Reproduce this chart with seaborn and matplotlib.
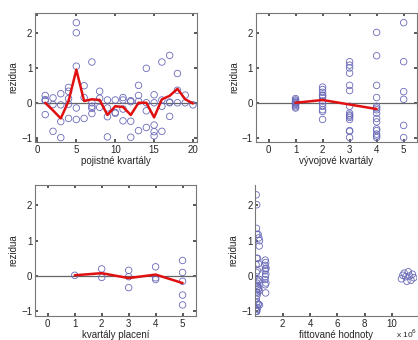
import numpy as np
import pandas as pd
import seaborn as sns
import matplotlib.pyplot as plt

# residuals vs accident quarter
acc_x = [1, 1, 1, 1, 2, 2, 2, 3, 3, 3, 3, 4, 4, 4, 4, 4,
         5, 5, 5, 5, 5, 6, 6, 6, 7, 7, 7, 7, 7, 8, 8, 8,
         9, 9, 9, 9, 10, 10, 10, 11, 11, 11, 11, 12, 12, 12, 12,
         13, 13, 13, 13, 14, 14, 14, 14, 15, 15, 15, 15, 15,
         16, 16, 16, 16, 17, 17, 17, 17, 18, 18, 18, 19, 19, 20]
acc_res = [0.21, 0.09, 0.06, -0.34, 0.14, -0.05, -0.82, 0.26, -0.06, -0.54, -1.0,
           0.44, 0.33, 0.12, -0.04, -0.45,
           2.3, 2.01, 1.05, -0.15, -0.48, 0.49, 0.15, -0.45,
           1.17, 0.0, -0.1, -0.16, -0.31, 0.33, 0.13, -0.13,
           0.08, -0.15, -0.4, -0.98, 0.08, -0.28, -0.3,
           0.15, 0.08, -0.18, -0.52, 0.06, 0.03, -0.53, -0.99,
           0.5, 0.21, 0.04, -0.8, 0.99, 0.0, -0.23, -0.71,
           0.23, 0.0, -0.64, -0.83, -0.95,
           1.17, 0.08, -0.1, -0.82, 1.36, 0.02, 0.0, -0.39,
           0.84, 0.36, 0.0, 0.22, 0.0, -0.06]
acc_q = list(range(1, 21))
acc_mean = [0.0, -0.22, -0.45, 0.05, 0.95, 0.05, 0.1, 0.08, -0.35, -0.1,
            -0.12, -0.35, 0.0, 0.0, -0.42, 0.1, 0.2, 0.4, 0.1, -0.02]

# residuals vs development quarter
dev_x = [1] * 10 + [2] * 12 + [3] * 15 + [4] * 15 + [5] * 6
dev_res = [0.12, 0.08, 0.05, 0.02, 0.0, -0.02, -0.05, -0.08, -0.12, -0.15,
           0.45, 0.38, 0.3, 0.22, 0.2, 0.15, 0.05, -0.02, -0.1, -0.2, -0.25, -0.48,
           1.18, 1.08, 1.0, 0.85, 0.5, 0.35, -0.1, -0.3, -0.35, -0.38, -0.42, -0.48,
           -0.8, -0.82, -1.0,
           2.02, 1.35, 0.5, 0.15, -0.1, -0.15, -0.2, -0.3, -0.45, -0.55, -0.75, -0.8,
           -0.9, -0.95, -1.0,
           2.3, 1.18, 0.32, 0.1, -0.65, -1.0]
dev_q = [1, 2, 3, 4]
dev_mean = [0.0, 0.08, -0.05, -0.18]

# residuals vs payment quarter
pay_x = [1, 2, 2, 3, 3, 3, 4, 4, 4, 5, 5, 5, 5, 5]
pay_res = [0.02, 0.2, -0.04, 0.16, -0.02, -0.33, 0.26, -0.05, -0.1,
           0.44, 0.1, -0.15, -0.54, -0.82]
pay_q = [1, 2, 3, 4, 5]
pay_mean = [0.02, 0.08, -0.06, 0.04, -0.2]

# residuals vs fitted values (x 10^6)
fit_x = [11.2, 10.9, 11.5, 10.8, 11.3, 11.0, 11.6, 10.7, 11.4, 11.1,
         0.72, 0.75, 0.7, 0.78, 0.74, 0.71, 0.76, 0.73, 0.7, 0.77, 0.72, 0.75,
         0.2, 0.25, 0.3, 0.28, 0.15, 0.22, 0.3, 0.18, 0.25, 0.2, 0.27, 0.15,
         0.2, 0.3, 0.1,
         0.1, 0.08, 0.1, 0.15, 0.12, 0.2, 0.1, 0.15, 0.08, 0.12, 0.1, 0.2,
         0.15, 0.1, 0.08,
         0.06, 0.1, 0.05, 0.08, 0.06, 0.05]
fit_res = dev_res

line_color = '#e01010'
marker_color = '#6a6ab8'
sns.set_theme(style='white')
plt.rcParams['font.family'] = ['Liberation Sans', 'DejaVu Sans']

fig = plt.figure(figsize=(4.18, 3.4), dpi=100)
boxes = [[0.084, 0.582, 0.387, 0.380], [0.612, 0.582, 0.386, 0.380],
         [0.084, 0.071, 0.385, 0.385], [0.611, 0.071, 0.387, 0.385]]
axes = [fig.add_axes(b) for b in boxes]

panels = [
    (acc_x, acc_res, acc_q, acc_mean, 'pojistné kvartály', (-0.3, 20.5), [0, 5, 10, 15, 20]),
    (dev_x, dev_res, dev_q, dev_mean, 'vývojové kvartály', (-0.47, 5.5), [0, 1, 2, 3, 4, 5]),
    (pay_x, pay_res, pay_q, pay_mean, 'kvartály placení', (-0.47, 5.5), [0, 1, 2, 3, 4, 5]),
]

for ax, (px, py, mx, my, xlab, xl, xt) in zip(axes[:3], panels):
    ax.axhline(0, color='#666666', lw=0.9, zorder=1)
    sns.scatterplot(x=px, y=py, ax=ax, marker='o', s=22, facecolor='none',
                    edgecolor=marker_color, linewidth=0.6, zorder=2)
    sns.lineplot(x=mx, y=my, ax=ax, color=line_color, lw=1.8, zorder=3)
    ax.set_xlim(*xl)
    ax.set_xticks(xt)
    ax.set_ylim(-1.13, 2.58)
    ax.set_yticks([-1, 0, 1, 2])
    ax.set_xlabel(xlab, fontsize=7, labelpad=1)
    ax.set_ylabel('rezidua', fontsize=7, labelpad=2)
    ax.tick_params(direction='in', length=2.5, labelsize=7, pad=2, color='#444444',
                   top=True, right=True, bottom=True, left=True)
    for sp in ax.spines.values():
        sp.set_color('#777777')
        sp.set_linewidth(0.8)

ax = axes[3]
sns.scatterplot(x=fit_x, y=fit_res, ax=ax, marker='o', s=22, facecolor='none',
                edgecolor=marker_color, linewidth=0.6)
ax.set_xlim(0, 11.85)
ax.set_xticks([2, 4, 6, 8, 10])
ax.set_ylim(-1.13, 2.58)
ax.set_yticks([-1, 0, 1, 2])
ax.set_xlabel('fittované hodnoty', fontsize=7, labelpad=1)
ax.set_ylabel('rezidua', fontsize=7, labelpad=2)
ax.tick_params(direction='in', length=2.5, labelsize=7, pad=2, color='#444444',
               bottom=True, left=True)
ax.spines['top'].set_visible(False)
ax.spines['right'].set_visible(False)
for sp in ['left', 'bottom']:
    ax.spines[sp].set_color('#777777')
    ax.spines[sp].set_linewidth(0.8)
fig.text(0.999, 0.001, 'x 10$^6$', fontsize=6, ha='right', va='bottom')

fig.savefig('out.png', dpi=100)
